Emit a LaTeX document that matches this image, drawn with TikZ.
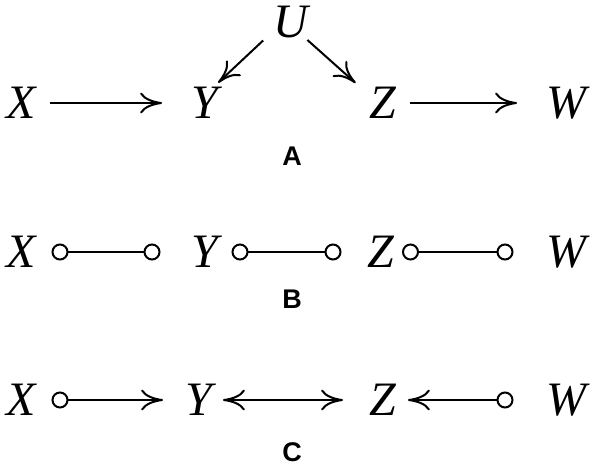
\documentclass[tikz,border=0pt]{standalone}
\usepackage{fontspec}
\setmainfont{Liberation Serif}
\newfontfamily\lblfont{Liberation Sans}
\usetikzlibrary{arrows.meta}
\tikzset{
  hd/.tip={Computer Modern Rightarrow[length=22pt,width=21pt]},
  oc/.tip={Circle[open,length=17pt,width=17pt]},
}
\begin{document}
\begin{tikzpicture}[x=1pt,y=-1pt,
  var/.style={inner sep=0pt, font=\fontsize{48}{50}\selectfont\itshape},
  panel/.style={inner sep=0pt, font=\lblfont\bfseries\fontsize{27}{30}\selectfont},
  edge/.style={line width=2pt}]
\useasboundingbox (0,0) rectangle (591,467);
% Panel A
\node[var] (UA) at (291,22) {U};
\node[var] (XA) at (21,103) {X};
\node[var] (YA) at (205,103) {Y};
\node[var] (ZA) at (383,103) {Z};
\node[var] (WA) at (566,103) {W};
\node[panel] (LA) at (292,156) {A};
\draw[edge,-hd,shorten <=29pt,shorten >=43pt] (XA.center) -- (YA.center);
\draw[edge,-hd,shorten <=27pt,shorten >=49pt] (ZA.center) -- (WA.center);
\draw[edge,-hd,shorten <=30pt,shorten >=18pt] ([xshift=-6pt,yshift=2pt]UA.center) -- ([yshift=8pt]YA.center);
\draw[edge,-hd,shorten <=30pt,shorten >=30pt] ([xshift=-6pt,yshift=2pt]UA.center) -- ([xshift=-5pt]ZA.center);
% Panel B
\node[var] (XB) at (21,252) {X};
\node[var] (YB) at (205,252) {Y};
\node[var] (ZB) at (381,252) {Z};
\node[var] (WB) at (566,252) {W};
\node[panel] (LB) at (292,299) {B};
\draw[edge,oc-oc,shorten <=30.5pt,shorten >=44.5pt] (XB.center) -- (YB.center);
\draw[edge,oc-oc,shorten <=26.5pt,shorten >=39.5pt] (YB.center) -- (ZB.center);
\draw[edge,oc-oc,shorten <=21pt,shorten >=52.5pt] (ZB.center) -- (WB.center);
% Panel C
\node[var] (XC) at (21,400) {X};
\node[var] (YC) at (199,400) {Y};
\node[var] (ZC) at (383,400) {Z};
\node[var] (WC) at (566,400) {W};
\node[panel] (LC) at (292,452) {C};
\draw[edge,oc-hd,shorten <=30.5pt,shorten >=36pt] (XC.center) -- (YC.center);
\draw[edge,hd-hd,shorten <=24pt,shorten >=40pt] (YC.center) -- (ZC.center);
\draw[edge,hd-oc,shorten <=25pt,shorten >=52.5pt] (ZC.center) -- (WC.center);
\end{tikzpicture}
\end{document}
